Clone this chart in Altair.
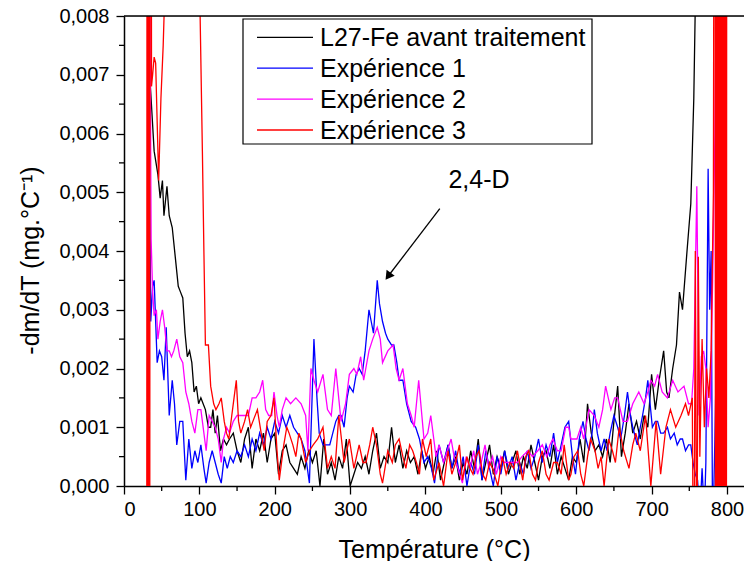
import altair as alt
import pandas as pd

SERIES = ["L27-Fe avant traitement", "Expérience 1", "Expérience 2", "Expérience 3"]
COLORS = ["#000000", "#0000FF", "#FF00FF", "#FF0000"]

X_TICKS = list(range(0, 801, 100))
X_MINOR = list(range(50, 801, 100))
Y_TICKS = [0.000, 0.001, 0.002, 0.003, 0.004, 0.005, 0.006, 0.007, 0.008]
Y_MINOR = [0.0005, 0.0015, 0.0025, 0.0035, 0.0045, 0.0055, 0.0065, 0.0075]
X_MAX = 822.6
Y_MAX = 0.008

# ---- L27-Fe avant traitement (black)
BLACK_HEAD = [(35, 0.0068), (40, 0.0057), (45, 0.0053), (48, 0.0049), (51, 0.0052), (53, 0.0046),
              (57, 0.0051), (60, 0.0046), (64, 0.0044), (68, 0.0039), (72, 0.0034), (75, 0.0033),
              (78, 0.0032), (81, 0.0026), (84, 0.0022), (87, 0.0023), (90, 0.0021), (93, 0.0016),
              (96, 0.0017), (99, 0.0014), (102, 0.0015), (105, 0.0014), (108, 0.0013), (112, 0.0010),
              (115, 0.0010), (118, 0.0013), (121, 0.0009), (124, 0.0012), (128, 0.0006), (132, 0.0008),
              (136, 0.0007), (140, 0.0008)]
BLACK_MID_T = list(range(145, 711, 5))
BLACK_MID_V = [0.0009, 0.0006, 0.0004, 0.0008, 0.0010, 0.0003, 0.0008, 0.0006, 0.0009, 0.0004,
               0.0008, 0.0009, 0.0002, 0.0006, 0.0007, 0.0004, 0.0003, 0.0002, 0.0005, 0.0003,
               0.0006, 0.0004, 0.0006, 0.0000, 0.0008, 0.0002, 0.0004, 0.0001, 0.0005, 0.0003,
               0.0008, 0.0000, 0.0002, 0.0004, 0.0003, 0.0005, 0.0002, 0.0006, 0.0009, 0.0003,
               0.0005, 0.0004, 0.0010, 0.0004, 0.0007, 0.0003, 0.0006, 0.0004, 0.0005, 0.0002,
               0.0006, 0.0003, 0.0005, 0.0002, 0.0006, 0.0001, 0.0004, 0.0007, 0.0003, 0.0005,
               0.0001, 0.0004, 0.0002, 0.0006, 0.0003, 0.0008, 0.0001, 0.0004, 0.0007, 0.0002,
               0.0005, 0.0003, 0.0006, 0.0002, 0.0004, 0.0006, 0.0002, 0.0005, 0.0003, 0.0007,
               0.0004, 0.0001, 0.0005, 0.0006, 0.0003, 0.0007, 0.0002, 0.0005, 0.0003, 0.0001,
               0.0005, 0.0004, 0.0008, 0.0004, 0.0014, 0.0009, 0.0006, 0.0007, 0.0005, 0.0008,
               0.0004, 0.0011, 0.0017, 0.0005, 0.0009, 0.0014, 0.0009, 0.0011, 0.0008, 0.0012,
               0.0010, 0.0019, 0.0013, 0.0018]
BLACK_TAIL = [(716, 0.0023), (720, 0.0016), (723, 0.0015), (728, 0.0020), (733, 0.0024), (737, 0.0033),
              (741, 0.0030), (747, 0.0040), (752, 0.0048), (756, 0.0066), (758, 0.0082), (762, 0.0120),
              (770, 0.0200)]

# ---- Expérience 1 (blue)
BLUE_HEAD = [(34, 0.0051), (35.5, 0.0028), (38, 0.0034), (40, 0.0035), (44, 0.0021), (47, 0.0023),
             (50, 0.0022), (53, 0.0018), (56, 0.0027), (60, 0.0012), (64, 0.0018), (67, 0.0014),
             (70, 0.0007), (74, 0.0011), (78, 0.0011), (82, 0.0001), (86, 0.0008), (90, 0.0003),
             (94, 0.0006), (98, 0.0004), (102, 0.0007), (106, 0.0003), (109, 0.00005), (113, 0.0004),
             (117, 0.0006), (121, 0.0004), (125, 0.0002), (129, 0.00005), (133, 0.0005), (137, 0.0003),
             (141, 0.0005)]
BLUE_A_T = list(range(145, 241, 5))
BLUE_A_V = [0.0004, 0.0006, 0.0005, 0.0007, 0.0005, 0.0008, 0.0006, 0.0009, 0.0007, 0.0010,
            0.0008, 0.0011, 0.0009, 0.0012, 0.0010, 0.0012, 0.0010, 0.0009, 0.0008, 0.0006]
BLUE_PEAK = [(246, 0.00005), (252, 0.0025), (256, 0.0015), (259, 0.0009), (264, 0.0007), (268, 0.0007),
             (273, 0.0007), (277, 0.0009), (281, 0.0011), (285, 0.0012), (288, 0.0012), (292, 0.0010),
             (296, 0.0015), (299, 0.0017), (304, 0.0016), (308, 0.0019), (312, 0.0020), (316, 0.0019),
             (320, 0.0023), (325, 0.0030), (328, 0.0028), (331, 0.0026), (336, 0.0035), (339, 0.0031),
             (343, 0.0028), (347, 0.0026), (350, 0.0025), (355, 0.0024), (358, 0.0024), (362, 0.0021),
             (365, 0.0018), (370, 0.0018), (375, 0.0014), (381, 0.0011), (387, 0.0010), (392, 0.0008),
             (398, 0.0004), (403, 0.0005), (408, 0.0003), (412, 0.00005), (418, 0.0007), (424, 0.0004),
             (430, 0.0007)]
BLUE_B_T = list(range(435, 591, 5))
BLUE_B_V = [0.0003, 0.0006, 0.0002, 0.0005, 0.0000, 0.0004, 0.0002, 0.0007, 0.0001, 0.0006,
            0.0003, 0.0000, 0.0005, 0.0002, 0.0006, 0.0003, 0.0005, 0.0001, 0.0004, 0.0002,
            0.0006, 0.0003, 0.0005, 0.0008, 0.0004, 0.0007, 0.0005, 0.0009, 0.0004, 0.0007,
            0.0010, 0.0011]
BLUE_TAIL = [(595, 0.0005), (599, 0.0002), (604, 0.0008), (609, 0.0011), (613, 0.0008), (617, 0.0006),
             (621, 0.0009), (624, 0.0013), (628, 0.0009), (633, 0.0006), (637, 0.0008), (641, 0.0006),
             (645, 0.0009), (650, 0.0012), (655, 0.0010), (659, 0.0008), (664, 0.0012), (668, 0.0016),
             (672, 0.0012), (675, 0.0010), (681, 0.0007), (685, 0.0010), (688, 0.0012), (692, 0.0015),
             (695, 0.0018), (701, 0.0010), (705, 0.0011), (708, 0.0011), (712, 0.0009), (716, 0.0009),
             (721, 0.0010), (725, 0.0008), (730, 0.0009), (734, 0.0007), (738, 0.0008), (741, 0.0008),
             (745, 0.0006), (749, 0.0007), (752, 0.0007), (755, 0.0004), (758, 0.0002), (761, 0.0001),
             (764, -0.0005), (767, 0.0003), (770, -0.0005), (772, 0.0004), (775, 0.0054), (777, 0.0030),
             (779, 0.0040), (781, -0.0010), (784, 0.0008), (786, 0.0023), (788, -0.0010), (790, 0.0014),
             (792, -0.0020)]

# ---- Expérience 2 (magenta)
MAGENTA = [(33, 0.012), (36, 0.0042), (38, 0.0033), (40, 0.0029), (43, 0.0030), (45, 0.0025), (48, 0.0028),
           (51, 0.0030), (54, 0.0027), (57, 0.0023), (60, 0.0023), (63, 0.0022), (66, 0.0023), (70, 0.0025),
           (74, 0.0022), (78, 0.0021), (82, 0.0016), (86, 0.0014), (90, 0.0011), (94, 0.0009), (98, 0.0013),
           (102, 0.0013), (106, 0.0009), (109, 0.0006), (113, 0.0012), (117, 0.0011), (121, 0.0010),
           (125, 0.0008), (129, 0.0004), (132, 0.0008), (136, 0.0010), (140, 0.0009), (145, 0.0011),
           (150, 0.0012), (155, 0.0012), (160, 0.0012), (165, 0.0012), (170, 0.0015), (175, 0.0015),
           (180, 0.0016), (184, 0.0018), (188, 0.0013), (192, 0.0012), (196, 0.0012), (199, 0.0016),
           (203, 0.0012), (206, 0.0010), (210, 0.0013), (215, 0.0015), (221, 0.0014), (228, 0.0015),
           (235, 0.0014), (241, 0.0012), (244, 0.0006), (248, 0.0020), (252, 0.0018), (257, 0.0016),
           (264, 0.0019), (270, 0.0013), (275, 0.0012), (281, 0.0020), (288, 0.0011), (294, 0.0014),
           (299, 0.0019), (305, 0.0020), (309, 0.0019), (314, 0.0022), (318, 0.0018), (325, 0.0023),
           (330, 0.0025), (336, 0.0027), (340, 0.0025), (343, 0.0021), (350, 0.0023), (357, 0.0024),
           (361, 0.0020), (365, 0.0018), (370, 0.0020), (376, 0.0014), (381, 0.0012), (385, 0.0010),
           (391, 0.0018), (398, 0.0008), (403, 0.0009), (407, 0.0012), (414, 0.0005), (418, 0.0007),
           (424, 0.0004), (429, 0.0006), (434, 0.0008), (438, 0.0005), (443, 0.0003), (449, 0.00005),
           (454, 0.0005), (459, 0.0003), (464, 0.0006), (469, 0.0002), (474, 0.0004), (479, 0.0007),
           (484, 0.0003), (489, 0.0005), (494, 0.0002), (500, 0.0005), (505, 0.0004), (510, 0.0004),
           (516, 0.0004), (522, 0.0004), (528, 0.0005), (536, 0.0006), (542, 0.0005), (549, 0.0006),
           (555, 0.0007), (561, 0.0005), (565, 0.0007), (569, 0.0008), (575, 0.0006), (580, 0.0006),
           (586, 0.0010), (590, 0.0010), (593, 0.0008), (597, 0.0008), (601, 0.0008), (606, 0.0010),
           (610, 0.0008), (617, 0.0013), (624, 0.0012), (630, 0.0010), (635, 0.0013), (639, 0.0017),
           (646, 0.0013), (651, 0.0015), (655, 0.0015), (662, 0.0011), (668, 0.0011), (675, 0.0014),
           (683, 0.0016), (690, 0.0014), (695, 0.0016), (699, 0.0018), (704, 0.0017), (708, 0.0019),
           (714, 0.0016), (721, 0.0015), (728, 0.0018), (735, 0.0016), (743, 0.0017), (749, 0.0014),
           (753, 0.0014), (756, 0.0020), (760, 0.0051), (763, 0.0012), (766, 0.0022), (769, 0.0023),
           (772, 0.0020), (775, 0.0010), (778, 0.0015), (781, 0.0035), (784, 0.0060), (786, 0.0090),
           (790, 0.0150)]

# ---- Expérience 3 (red)
RED = [(30, -0.01), (31, 0.03), (32, -0.01), (33, 0.03), (34, -0.01), (35, 0.03), (36.5, 0.0068),
       (38, 0.0070), (40, 0.0073), (42, 0.0072), (44, 0.0062), (46, 0.0052), (49, 0.0066), (52, 0.0075),
       (55, 0.0088), (60, 0.012), (70, 0.016), (80, 0.017), (90, 0.015), (97, 0.011), (101, 0.0080),
       (104, 0.0057), (106, 0.0040), (108, 0.0024), (112, 0.0024), (115, 0.0017), (119, 0.0014),
       (122, 0.0013), (126, 0.0014), (129, 0.0015), (133, 0.0011), (136, 0.0009), (139, 0.0008),
       (143, 0.0012), (146, 0.0015), (149, 0.0018), (152, 0.0011), (155, 0.0009), (160, 0.0011),
       (164, 0.0013), (168, 0.0010), (171, 0.0011), (177, 0.0013), (182, 0.0009), (186, 0.0006),
       (190, 0.0011), (195, 0.0012), (199, 0.0015), (203, 0.0006), (206, 0.0001), (212, 0.0007),
       (216, 0.0010), (219, 0.0009), (224, 0.0007), (228, 0.0005), (232, 0.0009), (235, 0.0008),
       (241, 0.0004), (246, 0.0006), (251, 0.0007), (257, 0.0008), (264, 0.0010), (270, 0.0003),
       (275, 0.0005), (280, 0.0003), (285, 0.0012), (292, 0.0004), (299, 0.0008), (305, 0.0003),
       (312, 0.0007), (317, 0.0004), (321, 0.0004), (326, 0.0007), (330, 0.0010), (335, 0.0007),
       (340, 0.0002), (343, 0.00005), (350, 0.0006), (356, 0.0004), (360, 0.0007), (365, 0.0008),
       (370, 0.0005), (374, 0.0003), (379, 0.0007), (383, 0.0006), (388, 0.0004), (392, 0.0002),
       (396, 0.0008), (401, 0.0005), (407, 0.0008), (411, 0.0001), (418, 0.0004), (424, 0.0),
       (430, 0.0006), (435, 0.0002), (440, 0.0004), (445, 0.0007), (449, 0.0001), (455, 0.0005),
       (459, 0.0003), (463, 0.0002), (467, 0.0005), (471, 0.0006), (476, 0.0002), (480, 0.0001),
       (485, 0.0004), (489, 0.0003), (496, 0.0), (502, 0.0005), (507, 0.0002), (512, 0.0004),
       (517, 0.0003), (522, 0.0006), (529, 0.0001), (533, 0.0005), (537, 0.0006), (542, 0.0002),
       (546, 0.0001), (550, 0.0004), (555, 0.0006), (560, 0.0002), (564, 0.0001), (570, 0.0004),
       (575, 0.0004), (580, 0.0002), (584, 0.0007), (590, 0.0001), (593, 0.0002), (597, 0.0005),
       (602, 0.0006), (606, 0.0002), (610, 0.0), (615, 0.0005), (619, 0.0008), (625, 0.0006),
       (629, 0.0003), (633, 0.0005), (637, 0.0), (643, 0.0008), (648, 0.0006), (652, 0.0004),
       (657, 0.0010), (663, 0.0006), (670, 0.0003), (675, 0.0007), (679, 0.0009), (685, 0.0006),
       (692, 0.0012), (699, 0.0), (706, 0.0011), (712, 0.0002), (719, 0.0010), (725, 0.0013),
       (732, 0.0010), (739, 0.0012), (745, 0.0014), (749, 0.0012), (754, 0.0015), (756, -0.003),
       (758, 0.0040), (760, -0.002), (762, 0.0039), (764, 0.0005), (767, 0.0025), (770, 0.0010),
       (773, 0.0020), (776, 0.0015), (779, 0.0023), (782, 0.0050), (784, 0.02), (785, -0.01),
       (786, 0.02), (787, -0.01), (788, 0.02), (789, -0.01), (790, 0.02), (791, -0.01), (792, 0.02),
       (793, -0.01), (794, 0.02), (795, -0.01), (796, 0.02), (797, -0.01), (798, 0.02), (799, -0.01),
       (800, 0.02)]

# annotation "2,4-D"
LABEL_TEXT = "2,4-D"
LABEL_POS = (471.0, 0.00521)
ARROW_FROM = (419.0, 0.00472)
ARROW_TO = (350.4, 0.00357)

assert len(BLACK_MID_T) == len(BLACK_MID_V)
assert len(BLUE_A_T) == len(BLUE_A_V)
assert len(BLUE_B_T) == len(BLUE_B_V)

black = BLACK_HEAD + list(zip(BLACK_MID_T, BLACK_MID_V)) + BLACK_TAIL
blue = BLUE_HEAD + list(zip(BLUE_A_T, BLUE_A_V)) + BLUE_PEAK + list(zip(BLUE_B_T, BLUE_B_V)) + BLUE_TAIL

rows = []
for name, pts in zip(SERIES, [black, blue, MAGENTA, RED]):
    for t, v in pts:
        rows.append({"T": t, "v": v, "series": name})
df = pd.DataFrame(rows)

# ---- layout (plot area in pixels)
W, H = 620, 470
FONT = "Liberation Sans"


def px_to_T(px):
    return px / W * X_MAX


def py_to_v(py):
    return Y_MAX - py / H * Y_MAX


xscale = alt.Scale(domain=[0, X_MAX], nice=False, zero=False)
yscale = alt.Scale(domain=[0, Y_MAX], nice=False, zero=False)
cscale = alt.Scale(domain=SERIES, range=COLORS)

x_axis = alt.Axis(values=X_TICKS, format="d", title="Température (°C)", grid=False,
                  tickSize=8, labelPadding=5, labelFontSize=20, titleFontSize=25,
                  titleFontWeight="normal", titleBaseline="alphabetic", titleY=71,
                  domainColor="black", tickColor="black", labelColor="black", titleColor="black",
                  domainWidth=1.5, tickWidth=1.3, labelFont=FONT, titleFont=FONT)
y_axis = alt.Axis(values=Y_TICKS, labelExpr="replace(format(datum.value, '.3f'), '.', ',')",
                  title="-dm/dT (mg.°C⁻¹)", grid=False, tickSize=8, labelPadding=7,
                  labelFontSize=20, titleFontSize=25, titleFontWeight="normal",
                  titleAngle=-90, titleBaseline="alphabetic", titleAlign="center",
                  titleX=-86, titleY=244,
                  domainColor="black", tickColor="black", labelColor="black", titleColor="black",
                  domainWidth=1.5, tickWidth=1.3, labelFont=FONT, titleFont=FONT)


def X(field):
    return alt.X(field, scale=xscale, axis=x_axis)


def Y(field):
    return alt.Y(field, scale=yscale, axis=y_axis)


layers = []
for name in SERIES:
    layers.append(
        alt.Chart(df).transform_filter(alt.datum.series == name)
        .mark_line(clip=True, strokeWidth=1.3)
        .encode(x=X("T:Q"), y=Y("v:Q"),
                color=alt.Color("series:N", scale=cscale, legend=None))
    )

xminor = alt.Chart(pd.DataFrame({"T": X_MINOR})).mark_rule(color="black", strokeWidth=1.3, y2Offset=5).encode(
    x=X("T:Q"), y=alt.datum(0), y2=alt.datum(0))
yminor = alt.Chart(pd.DataFrame({"v": Y_MINOR})).mark_rule(color="black", strokeWidth=1.3, x2Offset=-5).encode(
    y=Y("v:Q"), x=alt.datum(0), x2=alt.datum(0))
topframe = alt.Chart(pd.DataFrame({"a": [0]})).mark_rule(color="black", strokeWidth=1.5).encode(
    x=alt.datum(0), x2=alt.datum(X_MAX), y=alt.datum(Y_MAX))

# ---- legend box drawn with the same scales
ROW0, ROW_STEP = 21.3, 30.9
leg_box = pd.DataFrame({"x0": [px_to_T(119)], "x1": [px_to_T(468)],
                        "y0": [py_to_v(3)], "y1": [py_to_v(128)]})
leg = pd.DataFrame({"series": SERIES,
                    "sx0": [px_to_T(133)] * 4, "sx1": [px_to_T(189)] * 4, "tx": [px_to_T(196)] * 4,
                    "sy": [py_to_v(ROW0 + i * ROW_STEP) for i in range(4)],
                    "ty": [py_to_v(ROW0 + i * ROW_STEP + 8.5) for i in range(4)]})
box = alt.Chart(leg_box).mark_rect(fill="white", stroke="black", strokeWidth=1.2).encode(
    x=X("x0:Q"), x2="x1:Q", y=Y("y0:Q"), y2="y1:Q")
leg_lines = alt.Chart(leg).mark_rule(strokeWidth=1.3).encode(
    x=X("sx0:Q"), x2="sx1:Q", y=Y("sy:Q"),
    color=alt.Color("series:N", scale=cscale, legend=None))
leg_text = alt.Chart(leg).mark_text(font=FONT, fontSize=25, color="black", align="left",
                                    baseline="alphabetic").encode(
    x=X("tx:Q"), y=Y("ty:Q"), text="series:N")

ann = pd.DataFrame({"T": [LABEL_POS[0]], "v": [LABEL_POS[1]], "txt": [LABEL_TEXT],
                    "T0": [ARROW_FROM[0]], "v0": [ARROW_FROM[1]],
                    "T1": [ARROW_TO[0]], "v1": [ARROW_TO[1]]})
label = alt.Chart(ann).mark_text(font=FONT, fontSize=25, color="black", baseline="middle").encode(
    x=X("T:Q"), y=Y("v:Q"), text="txt:N")
arrow = alt.Chart(ann).mark_rule(color="black", strokeWidth=1.3).encode(
    x=X("T0:Q"), y=Y("v0:Q"), x2="T1:Q", y2="v1:Q")
head = alt.Chart(ann).mark_point(shape="triangle-up", filled=True, color="black", size=100,
                                 angle=216, opacity=1).encode(x=X("T1:Q"), y=Y("v1:Q"))

chart = alt.layer(*layers, xminor, yminor, topframe, box, leg_lines, leg_text,
                  arrow, head, label).properties(
    width=W, height=H,
    autosize=alt.AutoSizeParams(type="none"),
    padding={"left": 116, "top": 8, "right": 0, "bottom": 75},
).configure_view(stroke=None).configure(font=FONT, background="white")

chart.save("out.html", embed_options={"renderer": "svg", "actions": False})
